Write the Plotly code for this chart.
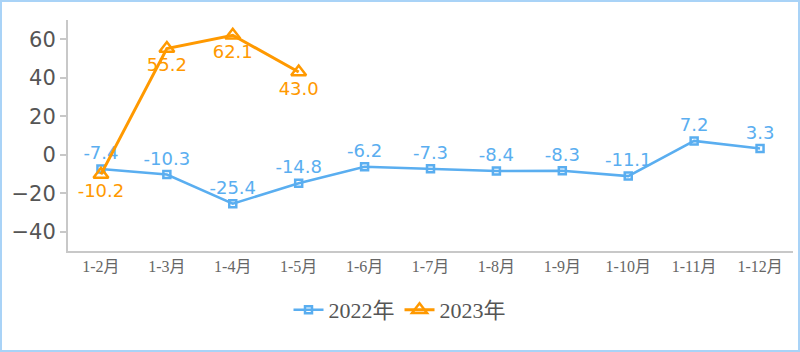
import plotly.graph_objects as go

categories = ["1-2月", "1-3月", "1-4月", "1-5月", "1-6月", "1-7月", "1-8月", "1-9月", "1-10月", "1-11月", "1-12月"]
values_2022 = [-7.4, -10.3, -25.4, -14.8, -6.2, -7.3, -8.4, -8.3, -11.1, 7.2, 3.3]
cats_2023 = ["1-2月", "1-3月", "1-4月", "1-5月"]
values_2023 = [-10.2, 55.2, 62.1, 43.0]
y_ticks = [-40, -20, 0, 20, 40, 60]

BLUE = "#5aaef0"
ORANGE = "#ff9900"
NUM_FONT = "DejaVu Sans"
SERIF = "Liberation Serif, Noto Sans CJK SC"

fig = go.Figure()
fig.add_trace(go.Scatter(
    x=categories, y=values_2022, name="2022年", mode="lines+markers+text",
    line=dict(color=BLUE, width=2.5),
    marker=dict(symbol="square-open", size=7, color=BLUE, line=dict(width=2.5, color=BLUE)),
    text=[f"{v:.1f}" for v in values_2022], textposition="top center",
    textfont=dict(family=NUM_FONT, size=18, color=BLUE),
    cliponaxis=False,
))
fig.add_trace(go.Scatter(
    x=cats_2023, y=values_2023, name="2023年", mode="lines+markers+text",
    line=dict(color=ORANGE, width=3),
    marker=dict(symbol="triangle-up-open", size=13, color=ORANGE, line=dict(width=2.5, color=ORANGE)),
    text=[f"{v:.1f}" for v in values_2023], textposition="bottom center",
    textfont=dict(family=NUM_FONT, size=18, color=ORANGE),
    cliponaxis=False,
))

L, R, T, B = 68, 7, 20, 101
W, H = 800, 352
pw, ph = W - L - R, H - T - B

fig.update_layout(
    width=W, height=H,
    margin=dict(l=L, r=R, t=T, b=B),
    paper_bgcolor="white", plot_bgcolor="white",
    showlegend=True,
    legend=dict(orientation="h", x=(400 - L) / pw, xanchor="center",
                y=-(310 - (T + ph)) / ph, yanchor="middle",
                font=dict(family=SERIF, size=22, color="#555555"),
                itemwidth=30, tracegroupgap=0),
    xaxis=dict(type="category", categoryorder="array", categoryarray=categories,
               range=[-0.5, 10.5], showgrid=False, showline=True, linecolor="#c8c8c8", linewidth=2,
               ticks="", tickfont=dict(family=SERIF, size=16, color="#666666"), zeroline=False,
               fixedrange=True),
    yaxis=dict(range=[-50, 70], tickvals=y_ticks, showgrid=False, showline=True,
               linecolor="#c8c8c8", linewidth=2, ticks="outside", ticklen=6, tickcolor="#c8c8c8",
               tickwidth=1.5, tickfont=dict(family=NUM_FONT, size=21, color="#555555"), zeroline=False,
               fixedrange=True),
    shapes=[dict(type="rect", xref="paper", yref="paper",
                 x0=-(L - 1) / pw, x1=(W - L - 1) / pw,
                 y0=-(H - 1 - (T + ph)) / ph, y1=1 + (T - 1) / ph,
                 line=dict(color="#a9d3f7", width=2), layer="below")],
)

fig.write_html("out.html")
